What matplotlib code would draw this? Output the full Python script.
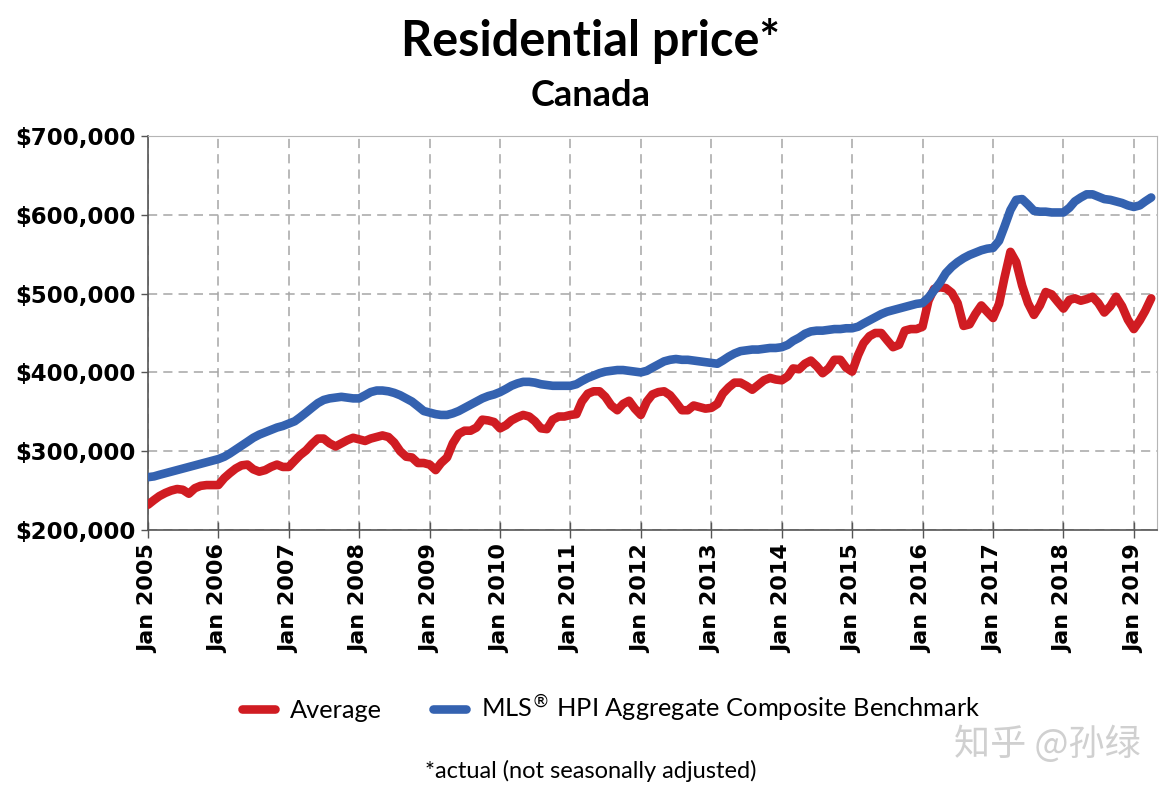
import numpy as np
import pandas as pd
import matplotlib.pyplot as plt
import matplotlib.ticker as mticker

# monthly values in thousands of dollars, Jan 2005 - Apr 2019
average = [
    232, 238, 243, 247, 250, 252, 251, 246, 253, 256, 257, 257,   # 2005
    257, 266, 272, 278, 282, 283, 277, 274, 276, 280, 283, 280,   # 2006
    280, 288, 295, 301, 309, 316, 316, 310, 306, 310, 314, 317,   # 2007
    315, 313, 316, 318, 320, 318, 311, 300, 293, 292, 285, 285,   # 2008
    283, 276, 285, 292, 310, 322, 326, 326, 330, 340, 339, 337,   # 2009
    329, 333, 339, 343, 346, 344, 338, 329, 328, 340, 344, 344,   # 2010
    346, 347, 363, 373, 376, 376, 369, 358, 352, 360, 364, 354,   # 2011
    346, 363, 372, 375, 376, 371, 362, 352, 352, 358, 356, 354,   # 2012
    355, 360, 373, 381, 387, 387, 383, 378, 384, 390, 393, 391,   # 2013
    390, 395, 405, 404, 411, 415, 408, 399, 405, 416, 416, 406,   # 2014
    401, 422, 437, 446, 450, 450, 441, 432, 435, 453, 455, 455,   # 2015
    458, 491, 506, 508, 507, 501, 488, 459, 461, 474, 485, 477,   # 2016
    469, 487, 520, 553, 540, 510, 488, 473, 485, 502, 499, 490,   # 2017
    481, 492, 494, 491, 493, 496, 488, 476, 484, 496, 484, 467,   # 2018
    455, 466, 478, 494,                                           # 2019
]
hpi = [
    267, 268, 270, 272, 274, 276, 278, 280, 282, 284, 286, 288,   # 2005
    290, 293, 297, 302, 307, 312, 317, 321, 324, 327, 330, 332,   # 2006
    335, 338, 343, 349, 355, 361, 365, 367, 368, 369, 368, 367,   # 2007
    367, 371, 375, 377, 377, 376, 374, 371, 367, 363, 357, 351,   # 2008
    349, 347, 346, 346, 348, 351, 355, 359, 363, 367, 370, 372,   # 2009
    375, 379, 383, 386, 388, 388, 387, 385, 384, 383, 383, 383,   # 2010
    383, 385, 389, 393, 396, 399, 401, 402, 403, 403, 402, 401,   # 2011
    400, 402, 406, 410, 414, 416, 417, 416, 416, 415, 414, 413,   # 2012
    412, 411, 415, 420, 424, 427, 428, 429, 429, 430, 431, 431,   # 2013
    432, 435, 440, 444, 449, 452, 453, 453, 454, 455, 455, 456,   # 2014
    456, 458, 462, 466, 470, 474, 477, 479, 481, 483, 485, 487,   # 2015
    488, 495, 504, 514, 526, 534, 540, 545, 549, 552, 555, 557,   # 2016
    558, 567, 585, 606, 619, 620, 613, 605, 604, 604, 603, 603,   # 2017
    603, 609, 617, 622, 626, 626, 623, 620, 619, 617, 615, 612,   # 2018
    610, 612, 617, 622,                                           # 2019
]
years = list(range(2005, 2020))
tick_labels = [f"Jan {y}" for y in years]

months = pd.date_range("2005-01-01", periods=len(average), freq="MS")
ticks = pd.to_datetime([f"{y}-01-01" for y in years])

fig = plt.figure(figsize=(11.69, 7.96), dpi=100)
ax = fig.add_axes([0.1266, 0.3342, 0.8631, 0.4949])

red = "#d01c22"
blue = "#3462b0"
ax.plot(months, np.array(average) * 1000, color=red, lw=6.2, solid_capstyle="round",
        solid_joinstyle="round", label="Average", zorder=3)
ax.plot(months, np.array(hpi) * 1000, color=blue, lw=6.2, solid_capstyle="round",
        solid_joinstyle="round", label="MLS$^{\u00ae}$ HPI Aggregate Composite Benchmark", zorder=3)

ax.set_ylim(200000, 700000)
ax.set_xlim(pd.Timestamp("2005-01-01"), pd.Timestamp("2019-05-01"))
ax.yaxis.set_major_locator(mticker.MultipleLocator(100000))
ax.yaxis.set_major_formatter(mticker.FuncFormatter(lambda v, p: f"${v:,.0f}"))
ax.set_xticks(ticks)
ax.set_xticklabels(tick_labels, rotation=90)

for lab in ax.get_xticklabels():
    lab.set_fontweight("bold")
    lab.set_fontsize(16)
    lab.set_family("DejaVu Sans")
for lab in ax.get_yticklabels():
    lab.set_fontweight("bold")
    lab.set_fontsize(16.5)
    lab.set_family("DejaVu Sans")

ax.tick_params(axis="x", direction="inout", length=12, width=1, color="#555555", pad=4)
ax.tick_params(axis="y", direction="out", length=5, width=1, color="#555555", pad=4)

ax.grid(True, color="#a6a6a6", linestyle=(0, (6, 4)), linewidth=1.1)
ax.set_axisbelow(True)
for s in ["top", "right"]:
    ax.spines[s].set_color("#b5b5b5")
for s in ["left", "bottom"]:
    ax.spines[s].set_color("#555555")
    ax.spines[s].set_linewidth(1.2)

fig.text(0.505, 0.948, "Residential price*", ha="center", va="center",
         fontsize=35, fontweight="bold", family="Lato")
fig.text(0.505, 0.880, "Canada", ha="center", va="center",
         fontsize=26, fontweight="bold", family="Lato")

fig.legend(loc="center", bbox_to_anchor=(0.523, 0.11), ncol=2, frameon=False,
           prop={"family": "Lato", "size": 18.3}, handlelength=1.3, columnspacing=2.0,
           handletextpad=0.6)

fig.text(0.505, 0.032, "*actual (not seasonally adjusted)", ha="center", va="center",
         fontsize=17, family="Lato")

fig.text(0.896, 0.065, "知乎 @孙绿", ha="center", va="center", fontsize=26,
         color="#d0d0d0", family=["Noto Sans CJK SC", "DejaVu Sans"])

fig.savefig("out.png", dpi=100)
